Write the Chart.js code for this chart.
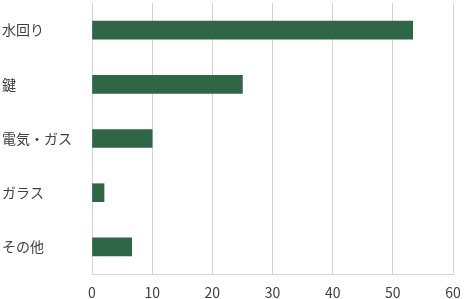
<!DOCTYPE html>
<html lang="ja">
<head>
    <meta charset="UTF-8"/>
    <title>カテゴリ別件数</title>
    <script src="https://cdn.jsdelivr.net/npm/chart.js@4.4.0/dist/chart.umd.min.js"></script>
    <style>
        html, body { margin: 0; padding: 0; background: #fff; }
        #wrap { width: 464px; height: 299px; }
    </style>
</head>
<body>
<div id="wrap">
    <canvas id="chart" width="464" height="299"></canvas>
</div>
<script>
    const categories = ['水回り', '鍵', '電気・ガス', 'ガラス', 'その他'];
    const counts = [53.3, 25, 10, 2, 6.6];
    const xTicks = [0, 10, 20, 30, 40, 50, 60];

    const gridColor = '#d4d4d4';
    const textColor = '#404040';

    const ctx = document.getElementById('chart').getContext('2d');
    const myChart = new Chart(ctx, {
        type: 'bar',
        data: {
            labels: categories,
            datasets: [
                {
                    data: counts,
                    backgroundColor: '#2f6646',
                    borderWidth: 0,
                    barThickness: 18
                }
            ]
        },
        options: {
            indexAxis: 'y',
            responsive: false,
            animation: false,
            layout: {
                padding: {left: 2, right: 11, top: 3, bottom: 0}
            },
            scales: {
                x: {
                    min: xTicks[0],
                    max: xTicks[xTicks.length - 1],
                    afterBuildTicks: scale => {
                        scale.ticks = xTicks.map(v => ({value: v}));
                    },
                    grid: {
                        color: gridColor,
                        lineWidth: 1,
                        drawTicks: false
                    },
                    border: {
                        color: gridColor
                    },
                    ticks: {
                        color: textColor,
                        padding: 10,
                        font: {family: '"Noto Sans CJK JP", "Noto Sans", sans-serif', size: 14}
                    },
                    afterFit: scale => {
                        scale.height = 25;
                        scale.paddingLeft = 0;
                        scale.paddingRight = 0;
                    }
                },
                y: {
                    grid: {
                        display: false
                    },
                    border: {
                        display: false
                    },
                    ticks: {
                        color: textColor,
                        crossAlign: 'far',
                        padding: 4,
                        font: {family: '"Noto Sans CJK JP", sans-serif', size: 14}
                    },
                    afterFit: scale => {
                        scale.width = 90;
                        scale.paddingTop = 0;
                        scale.paddingBottom = 0;
                    }
                }
            },
            plugins: {
                legend: {display: false},
                tooltip: {enabled: false}
            }
        }
    });
</script>
</body>
</html>
